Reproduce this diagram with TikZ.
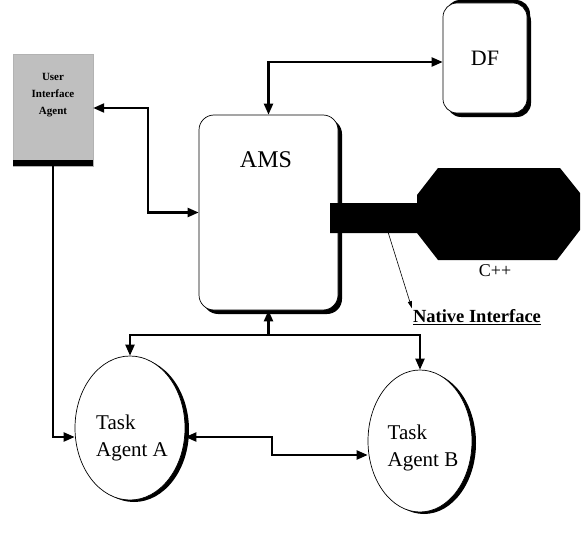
\documentclass[tikz,border=0pt]{standalone}
\usepackage{fontspec}
\setmainfont{Liberation Serif}
\usetikzlibrary{arrows.meta,shapes.geometric,shadows,calc}
\begin{document}
\begin{tikzpicture}[x=1pt,y=-1pt,
  >={Triangle[length=11pt,width=9pt]},
  conn/.style={line width=2.2pt},
  box/.style={draw, line width=0.7pt, rounded corners=15pt, fill=white,
    drop shadow={shadow xshift=4pt, shadow yshift=-4pt, fill=black, opacity=1}},
  agent/.style={draw, ellipse, line width=0.7pt, fill=white,
    drop shadow={shadow xshift=4pt, shadow yshift=-2pt, fill=black, opacity=1}},
  big/.style={font=\fontsize{24}{28}\selectfont},
  mid/.style={font=\fontsize{21}{27}\selectfont, align=left},
]
\useasboundingbox (0,0) rectangle (584,535);

% User interface agent
\node[fill=gray!50, draw=gray!60, minimum width=80pt, minimum height=112pt, inner sep=0pt]
  (ui) at (53,110) {};
\node[font=\fontsize{11}{17}\selectfont\bfseries, align=center, text=black] (uitext) at (53,95) {User\\Interface\\Agent};
\fill (ui.south west) ++(0,-6) rectangle (ui.south east);

% AMS
\node[box, minimum width=139pt, minimum height=195pt, inner sep=0pt] (ams) at (268.5,212.5) {};
\node[big] (amstext) at (266,160) {AMS};

% DF
\node[box, rounded corners=14pt, drop shadow={shadow xshift=3pt, shadow yshift=3pt, fill=black, opacity=1},
  minimum width=84pt, minimum height=110pt, inner sep=0pt, font=\fontsize{22}{26}\selectfont] (df) at (485,58) {DF};

% C++ component
\fill (330,203) -- (417,203) -- (417,195) -- (438,168) -- (560,168) -- (580,193)
  -- (580,230) -- (557,260) -- (438,260) -- (417,233) -- (330,233) -- cycle;
\coordinate (nifrom) at (388,232);
\node[font=\fontsize{18}{20}\selectfont] (cpp) at (495,271) {C++};

% Task agents
\node[agent, minimum width=110pt, minimum height=144pt, inner sep=0pt] (ta) at (130,428) {};
\node[mid] (tatext) at (132,438) {Task\\Agent A};
\node[agent, minimum width=104pt, minimum height=142pt, inner sep=0pt] (tb) at (420,441) {};
\node[mid] (tbtext) at (423,448) {Task\\Agent B};

% Native interface label
\node[font=\fontsize{18.5}{20}\selectfont\bfseries, inner sep=1pt] (nat) at (477,317) {\underline{Native Interface}};
\draw[line width=0.6pt, -{Triangle[length=7pt,width=4pt]}] (nifrom) -- (nat.north west);

% connectors
\draw[conn, <->] (ams.north) |- ([yshift=-4pt]df.west);
\draw[conn, <->] ([yshift=2pt]ui.east) -- ++(55,0) |- (ams.west);
\draw[conn, ->] (ui.south) |- ([yshift=-9pt]ta.west);
\coordinate (j) at (268.5,335);
\draw[conn, ->] (j) -- (ams.south);
\draw[conn, ->] (j) -| (ta.north);
\draw[conn, ->] (j) -| (tb.north);
\draw[conn, <->] ([yshift=-9pt]ta.east) -- ++(87,0) |- ([yshift=-14pt]tb.west);
\end{tikzpicture}
\end{document}
